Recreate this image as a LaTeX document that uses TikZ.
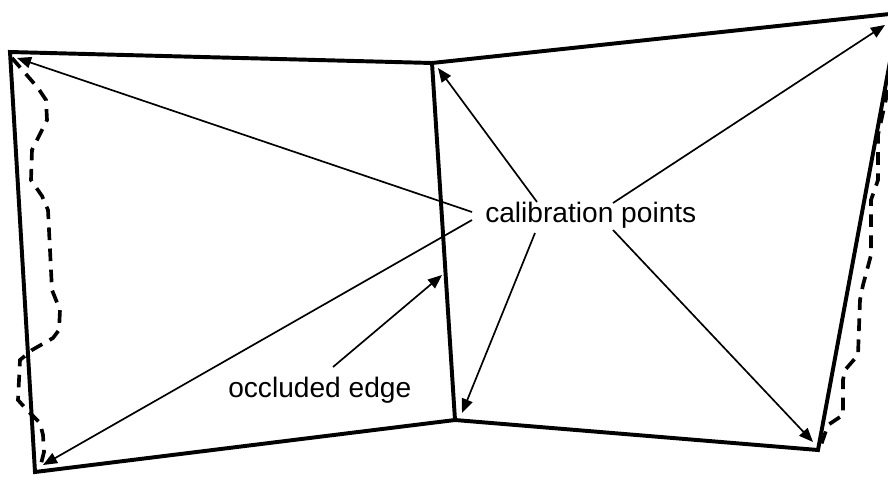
\documentclass[tikz,border=0pt]{standalone}
\usepackage{fontspec}
\setmainfont{Liberation Sans}
\usetikzlibrary{arrows.meta}

\begin{document}
\begin{tikzpicture}[x=0.025cm, y=-0.025cm,
  >={Triangle[length=10pt,width=8pt]},
  edge/.style={line width=2.8pt, line join=miter},
  occl/.style={line width=2.6pt, dash pattern=on 9pt off 6pt},
  ptr/.style={->, line width=1.2pt},
  lbl/.style={font=\fontsize{20}{24}\selectfont, anchor=base west, inner sep=0pt},
]
  \useasboundingbox (0,0) rectangle (888,480);
  \clip (0,0) rectangle (888,480);
  % panel corners
  \coordinate (tl) at (10,52);
  \coordinate (tm) at (432,63);
  \coordinate (tr) at (899,13);
  \coordinate (bl) at (35,472);
  \coordinate (bm) at (455,420);
  \coordinate (br) at (818,450);
  % the two panels
  \draw[edge] (tl) -- (tm) -- (bm) -- (bl) -- cycle;
  \draw[edge] (tm) -- (tr) -- (br) -- (bm);
  % occluding outlines
  \draw[occl] (12,58) -- (38,88) -- (46,100) -- (47,120) -- (32,150) -- (31,180)
    -- (42,196) -- (48,210) -- (50,250) -- (52,290) -- (60,310) -- (59,330)
    -- (53,338) -- (32,350) -- (20,360) -- (18,400) -- (27,410) -- (40,423)
    -- (43,435) -- (44,452) -- (40,468);
  \draw[occl] (888,90) -- (878,135) -- (878,180) -- (871,200) -- (871,255)
    -- (863,285) -- (860,300) -- (858,355) -- (845,370) -- (843,380)
    -- (843,415) -- (828,425) -- (820,448);
  % labels
  \node[lbl] (cal) at (485,222) {calibration points};
  \node[lbl] (occ) at (228,397) {occluded edge};
  % arrow tails
  \coordinate (c1) at (472,212);
  \coordinate (c2) at (472,220);
  \coordinate (c3) at (537,202);
  \coordinate (c4) at (535,233);
  \coordinate (c5) at (613,203);
  \coordinate (c6) at (613,230);
  \coordinate (o1) at (333,367);
  % arrow heads
  \coordinate (a1) at (17,58);
  \coordinate (a2) at (43,465);
  \coordinate (a3) at (438,68);
  \coordinate (a4) at (462,413);
  \coordinate (a5) at (885,25);
  \coordinate (a6) at (813,442);
  \coordinate (a7) at (442,275);
  \foreach \i in {1,...,6} { \draw[ptr] (c\i) -- (a\i); }
  \draw[ptr] (o1) -- (a7);
\end{tikzpicture}
\end{document}
